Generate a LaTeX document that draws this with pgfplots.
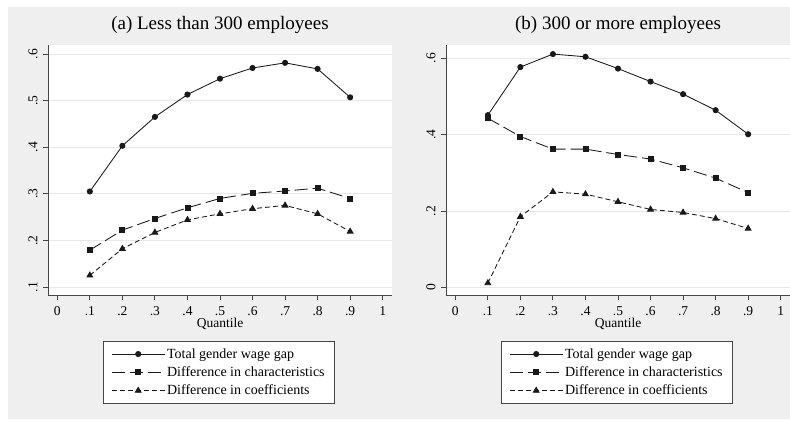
\documentclass[border=0pt]{standalone}
\usepackage{fontspec}
\setmainfont{Liberation Serif}
\usepackage{pgfplots}
\pgfplotsset{compat=1.18}

\definecolor{bg}{RGB}{239,239,239}
\definecolor{gridc}{RGB}{231,231,231}
\definecolor{axc}{RGB}{70,70,70}
\definecolor{ln}{RGB}{25,25,25}

\pgfplotsset{
  stata/.style={
    scale only axis, width=344bp, height=250bp,
    anchor=south west,
    axis x line*=bottom, axis y line*=left,
    axis line style={axc, line width=0.9bp},
    axis background/.style={fill=white},
    xmin=-0.0286, xmax=1.0286,
    xtick={0,0.1,0.2,0.3,0.4,0.5,0.6,0.7,0.8,0.9,1},
    xticklabels={0,.1,.2,.3,.4,.5,.6,.7,.8,.9,1},
    tick align=outside, major tick length=5bp,
    tick style={axc, line width=0.9bp},
    ymajorgrids, grid style={gridc, line width=0.9bp},
    /pgf/number format/assume math mode=true,
    tick label style={font=\fontsize{13.5bp}{15bp}\selectfont},
    xticklabel style={yshift=-3bp},
    yticklabel style={rotate=90, anchor=south},
    yticklabel shift=2bp,
    xlabel=Quantile,
    xlabel style={font=\fontsize{13.5bp}{15bp}\selectfont, yshift=4bp},
    title style={font=\fontsize{19bp}{22bp}\selectfont, at={(0.5,1.056)}, anchor=center},
    legend style={at={(0.497,-0.184)}, anchor=north, draw=axc, line width=0.9bp,
      fill=white, font=\fontsize{14bp}{16bp}\selectfont,
      inner xsep=8bp, inner ysep=5bp, row sep=3bp},
    legend cell align=left,
    legend image code/.code={
      \draw[mark repeat=2, mark phase=2, #1] plot coordinates {(0bp,0bp) (26.5bp,0bp) (53bp,0bp)};
    },
    every axis plot/.append style={ln, line width=0.85bp},
  },
  tot/.style={solid, mark=*, mark size=2.6bp},
  chr/.style={dash pattern=on 13bp off 5bp, mark=square*, mark size=2.5bp, mark options={solid}},
  coef/.style={dash pattern=on 5bp off 3bp, mark=triangle*, mark size=3.3bp, mark options={solid}},
}

\begin{document}
\begin{tikzpicture}
\useasboundingbox (0,0) rectangle (790bp,421bp);
\fill[white] (0,0) rectangle (790bp,421bp);
\fill[bg] (8bp,2bp) rectangle (790bp,414bp);

% (a) fewer than 300 employees
\begin{axis}[stata, at={(48bp,126bp)},
  title={(a) Less than 300 employees},
  ymin=0.0828, ymax=0.6193,
  ytick={0.1,0.2,0.3,0.4,0.5,0.6}, yticklabels={.1,.2,.3,.4,.5,.6}]
\addplot[tot] coordinates {(0.1,0.305) (0.2,0.403) (0.3,0.465) (0.4,0.513) (0.5,0.547) (0.6,0.570) (0.7,0.581) (0.8,0.568) (0.9,0.507)};
\addlegendentry{Total gender wage gap}
\addplot[chr] coordinates {(0.1,0.179) (0.2,0.222) (0.3,0.247) (0.4,0.270) (0.5,0.290) (0.6,0.301) (0.7,0.306) (0.8,0.312) (0.9,0.290)};
\addlegendentry{Difference in characteristics}
\addplot[coef] coordinates {(0.1,0.125) (0.2,0.182) (0.3,0.217) (0.4,0.244) (0.5,0.257) (0.6,0.268) (0.7,0.275) (0.8,0.257) (0.9,0.219)};
\addlegendentry{Difference in coefficients}
\end{axis}

% (b) 300 or more employees
\begin{axis}[stata, at={(446bp,126bp)},
  title={(b) 300 or more employees},
  ymin=-0.0202, ymax=0.6348,
  ytick={0,0.2,0.4,0.6}, yticklabels={0,.2,.4,.6}]
\addplot[tot] coordinates {(0.1,0.451) (0.2,0.577) (0.3,0.611) (0.4,0.604) (0.5,0.573) (0.6,0.539) (0.7,0.506) (0.8,0.464) (0.9,0.401)};
\addlegendentry{Total gender wage gap}
\addplot[chr] coordinates {(0.1,0.443) (0.2,0.395) (0.3,0.362) (0.4,0.362) (0.5,0.348) (0.6,0.336) (0.7,0.313) (0.8,0.286) (0.9,0.248)};
\addlegendentry{Difference in characteristics}
\addplot[coef] coordinates {(0.1,0.011) (0.2,0.185) (0.3,0.250) (0.4,0.244) (0.5,0.224) (0.6,0.204) (0.7,0.196) (0.8,0.180) (0.9,0.154)};
\addlegendentry{Difference in coefficients}
\end{axis}
\end{tikzpicture}
\end{document}
